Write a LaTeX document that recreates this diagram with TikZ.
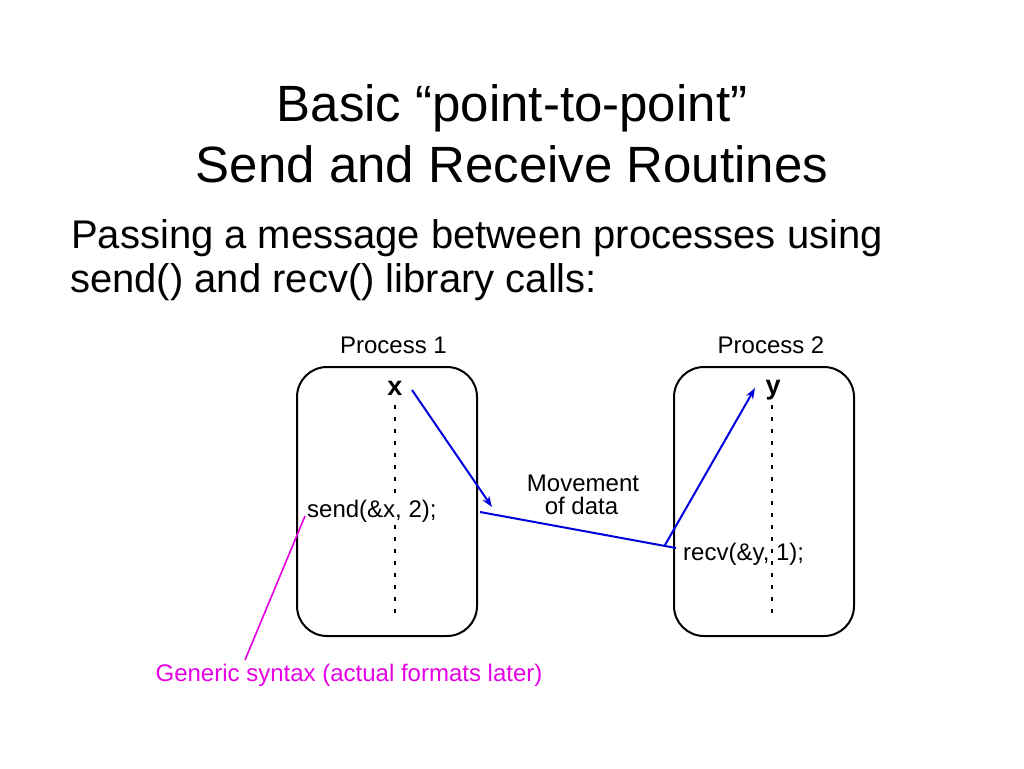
\documentclass[tikz,border=0pt]{standalone}
\usepackage{fontspec}
\setmainfont{Liberation Sans}
\usetikzlibrary{arrows.meta}
\definecolor{myblue}{RGB}{0,0,220}
\definecolor{mymag}{RGB}{230,0,230}
\begin{document}
\begin{tikzpicture}[x=1pt,y=-1pt,
  titletext/.style={anchor=base,inner sep=0pt,font=\fontsize{51}{61}\selectfont},
  bodytext/.style={anchor=base west,inner sep=0pt,font=\fontsize{40}{48}\selectfont},
  smalltext/.style={anchor=base,inner sep=0pt,font=\fontsize{24}{29}\selectfont},
  codetext/.style={anchor=base west,inner sep=0pt,font=\fontsize{24}{29}\selectfont},
  vartext/.style={anchor=base,inner sep=0pt,font=\fontsize{27}{30}\selectfont\bfseries},
  procbox/.style={draw,line width=2pt,rounded corners=30pt,minimum width=180pt,minimum height=269pt,inner sep=0pt},
  dotline/.style={line width=2.5pt,dash pattern=on 4pt off 8pt},
  flow/.style={myblue,line width=2pt,-{Stealth[length=11pt,width=8pt]}},
  flowline/.style={myblue,line width=2pt},
  noteline/.style={mymag,line width=1.6pt}
]
\useasboundingbox[fill=white] (0,0) rectangle (1024,768);

% titles
\node[titletext] (t1) at (512,121) {Basic “point-to-point”};
\node[titletext] (t2) at (512,182) {Send and Receive Routines};
\node[bodytext] (b1) at (71,248) {Passing a message between processes using};
\node[bodytext] (b2) at (70,292) {send() and recv() library calls:};

% process boxes
\node[procbox] (p1) at (387,501.5) {};
\node[procbox] (p2) at (764,501.5) {};
\node[smalltext] (l1) at (393.5,353) {Process 1};
\node[smalltext] (l2) at (771,353) {Process 2};

% variables
\node[vartext] (vx) at (395,395) {x};
\node[vartext] (vy) at (773,394) {y};

% dotted timelines
\coordinate (d1a) at (395,405);
\coordinate (d1b) at (395,618);
\coordinate (d2a) at (772,405);
\coordinate (d2b) at (772,618);
\draw[dotline] (d1a) -- (d1b);
\draw[dotline] (d2a) -- (d2b);

% calls
\node[codetext,fill=white,inner sep=1pt] (snd) at (306,517) {send(\&x, 2);};
\node[codetext] (rcv) at (683,560) {recv(\&y, 1);};

% movement
\node[smalltext] (mv1) at (583,491) {Movement};
\node[smalltext] (mv2) at (581.5,514) {of data};

% blue arrows
\coordinate (a1s) at (412,390);
\coordinate (a1e) at (492,507);
\coordinate (ms) at (480,512);
\coordinate (me) at (676,548);
\coordinate (a2s) at (665,545);
\coordinate (a2e) at (755,388);
\draw[flow] (a1s) -- (a1e);
\draw[flowline] (ms) -- (me);
\draw[flow] (a2s) -- (a2e);

% note
\coordinate (ns) at (305,516);
\coordinate (ne) at (245,660);
\draw[noteline] (ns) -- (ne);
\node[smalltext,mymag] (note) at (349,681) {Generic syntax (actual formats later)};
\end{tikzpicture}
\end{document}
